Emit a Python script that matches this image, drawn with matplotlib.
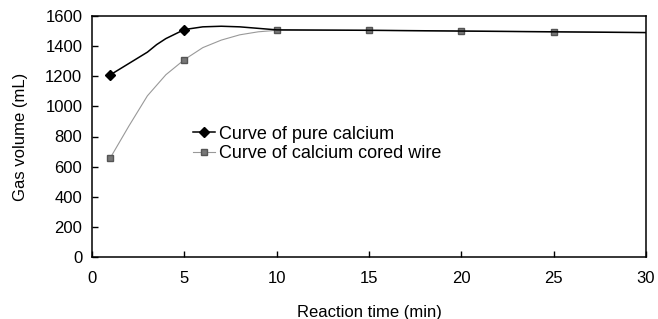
import matplotlib
matplotlib.use("Agg")
import matplotlib.pyplot as plt

plt.rcParams['font.family'] = ['Liberation Sans', 'DejaVu Sans']

t_pure = [1, 2, 3, 3.5, 4, 5, 6, 7, 8, 9, 10, 15, 20, 25, 30]
v_pure = [1210, 1285, 1360, 1410, 1450, 1510, 1528, 1532, 1528, 1518, 1508, 1505, 1500, 1495, 1490]
pure_marks = [0, 5]

t_wire = [1, 2, 3, 4, 5, 6, 7, 8, 9, 10, 15, 20, 25, 30]
v_wire = [660, 870, 1070, 1210, 1310, 1390, 1440, 1475, 1495, 1505, 1505, 1500, 1495, 1490]
wire_marks = [0, 4, 9, 10, 11, 12]

fig = plt.figure(figsize=(6.58, 3.19), dpi=100)
ax = fig.add_axes([92/658, 1 - 257/319, 554/658, 241/319])

ax.plot(t_wire, v_wire, color='#999999', lw=0.8, marker='s', ms=5,
        markevery=wire_marks, mfc='#777777', mec='#555555',
        label='Curve of calcium cored wire', zorder=2)
ax.plot(t_pure, v_pure, color='black', lw=1.1, marker='D', ms=5,
        markevery=pure_marks, label='Curve of pure calcium', zorder=3)

ax.set_xlim(0, 30)
ax.set_ylim(0, 1600)
ax.set_xticks([0, 5, 10, 15, 20, 25, 30])
ax.set_yticks(range(0, 1601, 200))
ax.tick_params(direction='in', labelsize=12, length=4, width=1)
ax.tick_params(axis='x', pad=10)
ax.tick_params(axis='y', pad=7)
for s in ax.spines.values():
    s.set_linewidth(1.1)

ax.set_xlabel('Reaction time (min)', fontsize=12, labelpad=14)
ax.set_ylabel('Gas volume (mL)', fontsize=12, labelpad=12)

h, l = ax.get_legend_handles_labels()
ax.legend(h[::-1], l[::-1], loc='upper left', bbox_to_anchor=(0.17, 0.575),
          frameon=False, fontsize=13, handlelength=1.2, handletextpad=0.2,
          labelspacing=0.15, borderaxespad=0)

fig.savefig('out.png', dpi=100)
